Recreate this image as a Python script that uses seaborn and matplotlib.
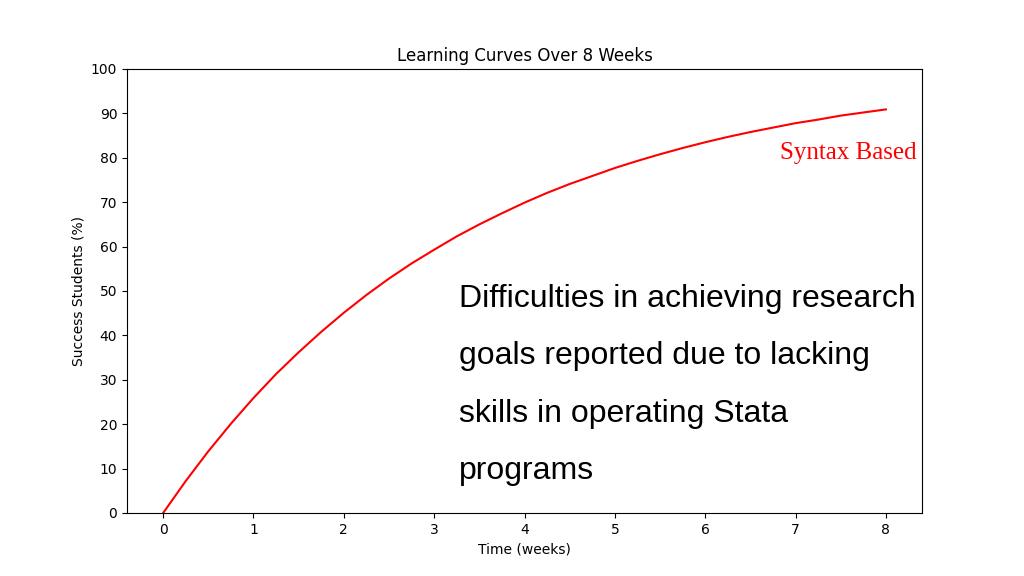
import matplotlib
matplotlib.use("Agg")
import matplotlib.pyplot as plt
import seaborn as sns
import pandas as pd

weeks = [0, 0.25, 0.5, 0.75, 1, 1.25, 1.5, 1.75, 2, 2.25, 2.5, 2.75, 3, 3.25, 3.5, 3.75,
         4, 4.25, 4.5, 4.75, 5, 5.25, 5.5, 5.75, 6, 6.25, 6.5, 6.75, 7, 7.25, 7.5, 7.75, 8]
success = [0, 7.2, 13.9, 20.1, 25.9, 31.3, 36.2, 40.8, 45.1, 49.1, 52.8, 56.2, 59.3, 62.3,
           65.0, 67.5, 69.9, 72.1, 74.1, 75.9, 77.7, 79.3, 80.8, 82.2, 83.5, 84.7, 85.8,
           86.8, 87.8, 88.6, 89.5, 90.2, 90.9]
xticks = [0, 1, 2, 3, 4, 5, 6, 7, 8]
yticks = [0, 10, 20, 30, 40, 50, 60, 70, 80, 90, 100]
title = "Learning Curves Over 8 Weeks"
series_label = "Syntax Based"
note_lines = ["Difficulties in achieving research",
              "goals reported due to lacking",
              "skills in operating Stata",
              "programs"]

df = pd.DataFrame({"Time (weeks)": weeks, "Success Students (%)": success})

fig = plt.figure(figsize=(10.24, 5.76), dpi=100)
ax = fig.add_axes([127/1024, 1 - 513/576, (922 - 127)/1024, (513 - 69)/576])
sns.lineplot(data=df, x="Time (weeks)", y="Success Students (%)", color="red",
             linewidth=1.5, ax=ax)
ax.set_ylim(0, 100)
ax.set_xticks(xticks)
ax.set_yticks(yticks)
ax.set_title(title, fontsize=12)
ax.tick_params(labelsize=10)
ax.xaxis.label.set_size(10)
ax.yaxis.label.set_size(10)

fig.text(917/1024, 1 - 153/576, series_label, color="red", family="Liberation Serif",
         fontsize=18, ha="right", va="center")
ys = [299, 356, 414, 471]
for line, y in zip(note_lines, ys):
    fig.text(459/1024, 1 - y/576, line, family="Liberation Sans", fontsize=23,
             ha="left", va="center", color="black")

fig.savefig("out.png", dpi=100)
